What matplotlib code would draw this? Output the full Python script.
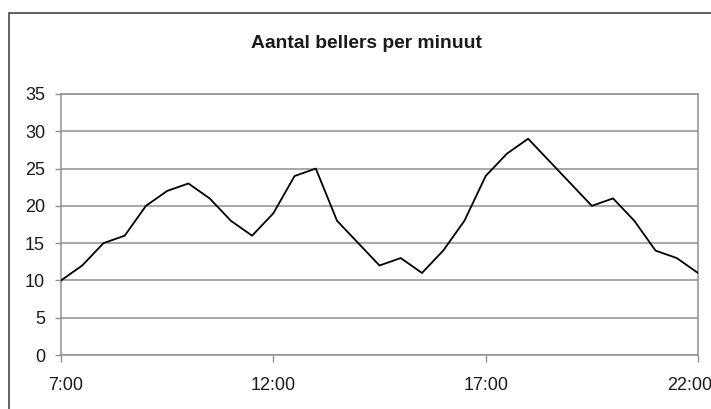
import matplotlib
matplotlib.use("Agg")
import matplotlib.pyplot as plt
from matplotlib.patches import Rectangle
from matplotlib.transforms import ScaledTranslation

# Calls per minute, sampled every half hour
times = ["7:00", "7:30", "8:00", "8:30", "9:00", "9:30", "10:00", "10:30",
         "11:00", "11:30", "12:00", "12:30", "13:00", "13:30", "14:00", "14:30",
         "15:00", "15:30", "16:00", "16:30", "17:00", "17:30", "18:00", "18:30",
         "19:00", "19:30", "20:00", "20:30", "21:00", "21:30", "22:00"]
callers = [10, 12, 15, 16, 20, 22, 23, 21, 18, 16, 19, 24, 25, 18, 15, 12,
           13, 11, 14, 18, 24, 27, 29, 26, 23, 20, 21, 18, 14, 13, 11]
x_tick_labels = ["7:00", "12:00", "17:00", "22:00"]
y_ticks = [0, 5, 10, 15, 20, 25, 30, 35]
title = "Aantal bellers per minuut"


def to_hours(t):
    h, m = t.split(":")
    return int(h) + int(m) / 60.0


hours = [to_hours(t) for t in times]
x_ticks = [to_hours(t) for t in x_tick_labels]

plt.rcParams["font.family"] = ["Liberation Sans", "DejaVu Sans"]

fig = plt.figure(figsize=(7.11, 4.09), dpi=100)
fig.patch.set_facecolor("white")

# outer chart frame (runs past the right and bottom edges)
frame = Rectangle((8.5 / 711, -0.1), 1.2, 1 - 13 / 409 + 0.1,
                  transform=fig.transFigure, fill=False,
                  edgecolor="#555555", linewidth=1.3, zorder=0)
fig.patches.append(frame)

ax = fig.add_axes([61 / 711, 1 - 355 / 409, (698 - 61) / 711, (355 - 94) / 409])
ax.set_facecolor("white")

grid_color = "#8f8f8f"
ax.plot(hours, callers, color="black", linewidth=1.3, zorder=3)

ax.set_xlim(x_ticks[0], x_ticks[-1])
ax.set_ylim(y_ticks[0], y_ticks[-1])
ax.set_yticks(y_ticks)
ax.set_yticklabels([str(v) for v in y_ticks])
ax.set_xticks(x_ticks)
ax.set_xticklabels(x_tick_labels)

ax.yaxis.grid(True, color=grid_color, linewidth=1.1)
ax.xaxis.grid(False)
ax.set_axisbelow(True)

for side in ["left", "bottom", "right", "top"]:
    ax.spines[side].set_color(grid_color)
    ax.spines[side].set_linewidth(1.1)

ax.tick_params(axis="y", direction="out", length=4.5, width=1.0,
               color=grid_color, pad=7, labelsize=13, labelcolor="#1a1a1a")
ax.tick_params(axis="x", direction="out", length=5, width=1.0,
               color=grid_color, pad=11, labelsize=13, labelcolor="#1a1a1a")

# nudge the first and last time labels inward
major = ax.xaxis.get_major_ticks(len(x_ticks))
for tick, dx_px in ((major[0], 5), (major[-1], -8)):
    shift = ScaledTranslation(dx_px / 100, 0, fig.dpi_scale_trans)
    tick.label1.set_transform(tick.label1.get_transform() + shift)

fig.text(366 / 711, 1 - 44 / 409, title, ha="center", va="center",
         fontsize=13.9, fontweight="bold", color="#1a1a1a")

fig.savefig("out.png", dpi=100, facecolor="white")
